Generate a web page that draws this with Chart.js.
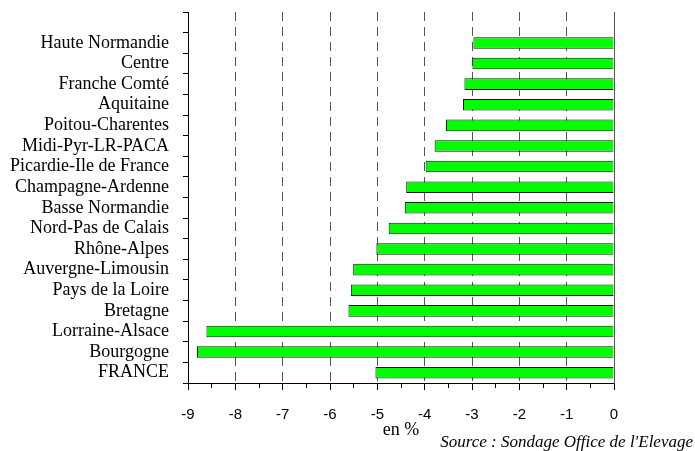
<!DOCTYPE html>
<html>
<head>
<meta charset="utf-8">
<script src="https://cdn.jsdelivr.net/npm/chart.js@4"></script>
<style>
html,body{margin:0;padding:0;background:#fff}
#wrap{width:695px;height:451px}
</style>
</head>
<body>
<div id="wrap"><canvas id="chart"></canvas></div>
<script>
// regions, top to bottom (first slot is empty in the original)
const regions = ["", "Haute Normandie", "Centre", "Franche Comté", "Aquitaine", "Poitou-Charentes",
  "Midi-Pyr-LR-PACA", "Picardie-Ile de France", "Champagne-Ardenne", "Basse Normandie",
  "Nord-Pas de Calais", "Rhône-Alpes", "Auvergne-Limousin", "Pays de la Loire", "Bretagne",
  "Lorraine-Alsace", "Bourgogne", "FRANCE"]
const change = [null, -2.97, -2.99, -3.16, -3.19, -3.55, -3.79, -3.98, -4.39, -4.42,
  -4.76, -5.02, -5.51, -5.56, -5.61, -8.61, -8.81, -5.04]
const xMin = -9
const xMax = 0
const axisTitle = "en %"
const sourceText = "Source : Sondage Office de l'Elevage"

const isMajor = v => Math.abs(v - Math.round(v)) < 1e-6

new Chart(document.getElementById("chart"), {
  type: "bar",
  data: {
    labels: regions,
    datasets: [{
      data: change,
      backgroundColor: "#00ff00",
      borderColor: "#111",
      borderWidth: 1,
      barPercentage: 0.56,
      categoryPercentage: 1
    }]
  },
  options: {
    indexAxis: "y",
    responsive: true,
    maintainAspectRatio: false,
    animation: false,
    layout: { padding: { top: 12, right: 2, left: 0, bottom: 0 } },
    plugins: {
      legend: { display: false },
      tooltip: { enabled: false },
      subtitle: {
        display: true,
        text: sourceText,
        position: "bottom",
        align: "end",
        color: "#000",
        font: { family: "Liberation Serif", size: 17, style: "italic", lineHeight: 1 },
        padding: 0
      }
    },
    scales: {
      x: {
        min: xMin,
        max: xMax,
        border: { display: true, color: "#000", dash: [9, 6] },
        grid: {
          color: ctx => {
            const v = ctx.tick ? ctx.tick.value : null
            if (v === null || !isMajor(v) || v <= xMin || v >= xMax) return "rgba(0,0,0,0)"
            return "#555"
          },
          lineWidth: 1,
          tickLength: 7,
          tickColor: "#000",
          tickBorderDash: ctx => (ctx.tick && isMajor(ctx.tick.value)) ? [] : [4, 20]
        },
        ticks: {
          stepSize: 0.5,
          autoSkip: false,
          maxRotation: 0,
          padding: 17,
          color: "#000",
          font: { family: "Liberation Sans", size: 15, lineHeight: 1 },
          callback: v => isMajor(v) ? String(Math.round(v)) : ""
        },
        title: {
          display: true,
          text: axisTitle,
          color: "#000",
          font: { family: "Liberation Serif", size: 18, lineHeight: 1 },
          padding: { top: -18, bottom: -5 }
        },
        afterFit: s => { s.paddingLeft = 0; s.paddingRight = 0 }
      },
      y: {
        type: "category",
        offset: true,
        border: { display: true, color: "#000" },
        grid: { offset: true, drawOnChartArea: false, tickLength: 5, color: "#000" },
        ticks: {
          autoSkip: false,
          padding: 14,
          color: "#000",
          font: { family: "Liberation Serif", size: 18 }
        },
        afterFit: s => { s.width = 188; s.paddingTop = 0; s.paddingBottom = 0 }
      },
      y2: {
        type: "category",
        position: "right",
        labels: regions,
        offset: true,
        border: { display: true, color: "#555" },
        grid: { display: false },
        ticks: { display: false },
        afterFit: s => { s.width = 79; s.paddingTop = 0; s.paddingBottom = 0 }
      }
    }
  }
})
</script>
</body>
</html>
